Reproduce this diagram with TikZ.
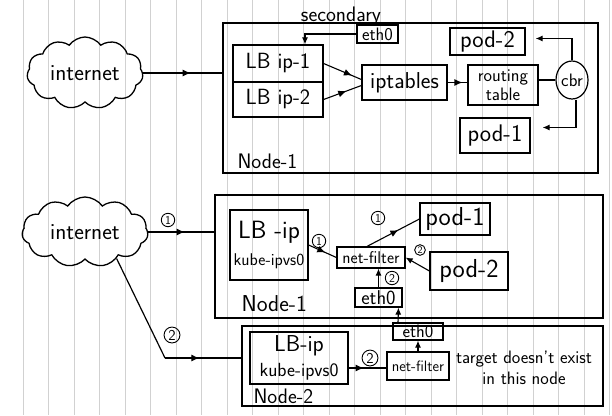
\documentclass[tikz,border=0pt]{standalone}
\usetikzlibrary{arrows.meta,shapes.symbols,shapes.geometric,decorations.markings}

\begin{document}
\begin{tikzpicture}[x=1pt, y=-1pt, >={Latex[length=7pt,width=6pt]},
	fs/.style={font=\sffamily\fontsize{#1}{#1}\selectfont},
	paperline/.style={black!18, line width=0.9pt},
	box/.style={draw, line width=1.2pt, rectangle, inner sep=1pt, align=center},
	container/.style={draw, line width=1.3pt, rectangle, inner sep=0pt},
	puff/.style={draw, line width=1.3pt, cloud, cloud puffs=11, cloud puff arc=110, cloud ignores aspect, fs=23},
	num/.style={draw, circle, line width=0.9pt, inner sep=1.2pt, fs=12},
	midarrow/.style={postaction={decorate}, decoration={markings, mark=at position #1 with {\arrow{Latex[length=8pt,width=7pt]}}}},
	midarrow/.default=0.55]
	\useasboundingbox (0,0) rectangle (612,415);

	\draw[paperline] (23,0) -- (23,415);
	\draw[paperline] (48.5,0) -- (48.5,415);
	\draw[paperline] (74,0) -- (74,415);
	\draw[paperline] (99.5,0) -- (99.5,415);
	\draw[paperline] (125,0) -- (125,415);
	\draw[paperline] (150.5,0) -- (150.5,415);
	\draw[paperline] (176,0) -- (176,415);
	\draw[paperline] (201.5,0) -- (201.5,415);
	\draw[paperline] (227,0) -- (227,415);
	\draw[paperline] (252.5,0) -- (252.5,415);
	\draw[paperline] (278,0) -- (278,415);
	\draw[paperline] (303.5,0) -- (303.5,415);
	\draw[paperline] (329,0) -- (329,415);
	\draw[paperline] (354.5,0) -- (354.5,415);
	\draw[paperline] (380,0) -- (380,415);
	\draw[paperline] (405.5,0) -- (405.5,415);
	\draw[paperline] (431,0) -- (431,415);
	\draw[paperline] (456.5,0) -- (456.5,415);
	\draw[paperline] (482,0) -- (482,415);
	\draw[paperline] (507.5,0) -- (507.5,415);
	\draw[paperline] (533,0) -- (533,415);
	\draw[paperline] (558.5,0) -- (558.5,415);
	\draw[paperline] (584,0) -- (584,415);
	\draw[paperline] (609.5,0) -- (609.5,415);

	\node[puff, minimum width=116, minimum height=72] (inet1) at (85,73) {internet};
	\node[container, minimum width=375, minimum height=150] (host1) at (410.5,98) {};
	\node[fs=21, anchor=west] (host1label) at (234,161) {Node-1};
	\node[fs=21] (secondary) at (341,16) {secondary};
	\node[box, fs=18, minimum width=41, minimum height=18, inner sep=0pt] (eth0top) at (377.5,34) {eth0};
	\node[box, fs=22, minimum width=90, minimum height=37] (lbip1) at (278,63.5) {LB ip-1};
	\node[box, fs=22, minimum width=90, minimum height=35] (lbip2) at (278,99.5) {LB ip-2};
	\node[box, fs=23, minimum width=85, minimum height=35] (iptables) at (404.5,82.5) {iptables};
	\node[box, fs=18, minimum width=70, minimum height=40, inner sep=0pt] (rtable) at (503,85) {routing\\[1pt]table};
	\node[draw, ellipse, line width=1.2pt, inner sep=0pt, minimum width=32, minimum height=38, fs=18] (cbr) at (572,80) {cbr};
	\node[box, fs=24, minimum width=75, minimum height=27] (pod2top) at (487.5,41.5) {pod-2};
	\node[box, fs=24, minimum width=70, minimum height=35] (pod1top) at (495,135.5) {pod-1};

	\draw[line width=1.2pt, midarrow=0.6] (inet1.east) -- (inet1.east -| host1.west);
	\draw[line width=1.1pt, ->] (eth0top.west) -| ([xshift=27pt]lbip1.north);
	\draw[line width=1.1pt, midarrow=0.75] (lbip1.east) -- ([yshift=3pt]iptables.west);
	\draw[line width=1.1pt, midarrow=0.6] (lbip2.east) -- ([yshift=-3pt]iptables.west);
	\draw[line width=1.1pt, midarrow=0.75] (iptables.east) -- (rtable.west |- iptables.east);
	\draw[line width=1.1pt] (rtable.east |- cbr.west) -- (cbr.west);
	\draw[line width=1.1pt, ->] (cbr.north) |- ([xshift=10pt,yshift=3pt]pod2top.east);
	\draw[line width=1.1pt, ->] ([xshift=4pt]cbr.south) |- ([xshift=12pt,yshift=8pt]pod1top.east);

	\node[puff, minimum width=126, minimum height=70] (inet2) at (85,232) {internet};
	\node[container, minimum width=388, minimum height=123] (host2) at (409,256.5) {};
	\node[fs=23, anchor=west] (host2label) at (238,304) {Node-1};
	\node[box, font=\sffamily, minimum width=78, minimum height=70, inner sep=0pt] (lbipvs1) at (269,245) {{\fontsize{25}{25}\selectfont LB -ip}\\[10pt]{\fontsize{17}{17}\selectfont kube-ipvs0}};
	\node[box, fs=17, minimum width=68, minimum height=21, inner sep=0pt] (netf1) at (371,257.5) {net-filter};
	\node[box, fs=20, minimum width=47, minimum height=19, inner sep=0pt] (eth0a) at (378.5,297.5) {eth0};
	\node[box, fs=26, minimum width=70, minimum height=32] (pod1b) at (455,219) {pod-1};
	\node[box, fs=26, minimum width=78, minimum height=38] (pod2b) at (469,271) {pod-2};

	\node[container, minimum width=361, minimum height=80] (host3) at (422.5,366) {};
	\node[fs=21, anchor=west] (host3label) at (250,396) {Node-2};
	\node[box, font=\sffamily, minimum width=98, minimum height=52] (lbipvs2) at (299,358) {{\fontsize{23}{23}\selectfont LB-ip}\\[6pt]{\fontsize{19}{19}\selectfont kube-ipvs0}};
	\node[box, fs=15, minimum width=62, minimum height=28, inner sep=0pt] (netf2) at (418,366) {net-filter};
	\node[box, fs=18, minimum width=50, minimum height=17, inner sep=0pt] (eth0b) at (418,331.5) {eth0};
	\node[fs=18, align=center] (nohost) at (524,368) {target doesn't exist\\[3pt]in this node};

	\node[num] (n1a) at (168,220) {1};
	\node[num] (n1b) at (319,241) {1};
	\node[num] (n1c) at (378,218) {1};
	\node[num] (n2a) at (392,278) {2};
	\node[num, fs=10, inner sep=0.8pt] (n2b) at (420,250) {2};
	\node[num, fs=15] (n2c) at (172,335) {2};
	\node[num, fs=15] (n2d) at (370,358) {2};
	\coordinate (bend2) at (165,358);

	\draw[line width=1.2pt, midarrow=0.55] (inet2.east) -- (inet2.east -| host2.west);
	\draw[line width=1.2pt] (inet2.-40) -- (bend2);
	\draw[line width=1.2pt, midarrow=0.45] (bend2) -- (bend2 -| host3.west);
	\draw[line width=1.1pt, midarrow=0.6] (lbipvs1.east) -- (netf1.west);
	\draw[line width=1.1pt, midarrow=0.6] ([xshift=-4pt]netf1.north) -- (pod1b.west);
	\draw[line width=1.1pt, ->] (pod2b.west) -- (netf1.east);
	\draw[line width=1.1pt, ->] (eth0a.north) -- (netf1.south -| eth0a.north);
	\draw[line width=1.1pt, ->] ([xshift=-20pt]eth0b.north) -- ([xshift=20pt]eth0a.south);
	\draw[line width=1.1pt, ->] (netf2.north) -- (eth0b.south);
	\draw[line width=1.1pt, midarrow=0.4] ([yshift=-10pt]lbipvs2.east) -- ([yshift=-2pt]netf2.west);
\end{tikzpicture}
\end{document}
